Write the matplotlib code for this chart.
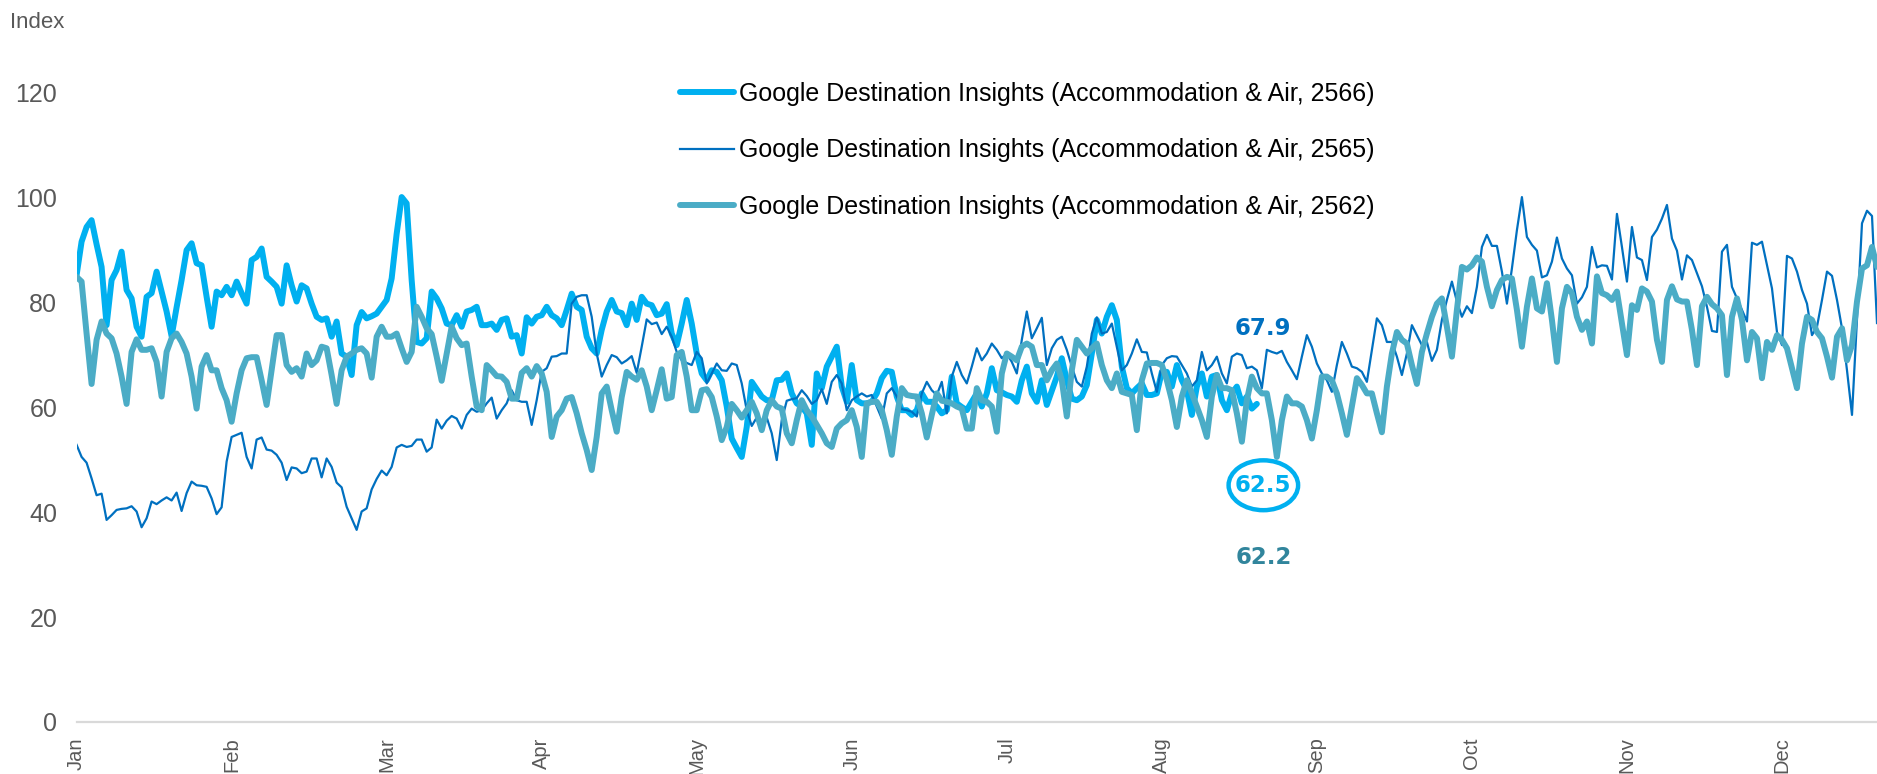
import numpy as np
import matplotlib
matplotlib.use("Agg")
import matplotlib.pyplot as plt
from matplotlib.patches import Ellipse
from matplotlib.lines import Line2D

# ---------------------------------------------------------------- data
months = ["Jan", "Feb", "Mar", "Apr", "May", "Jun",
          "Jul", "Aug", "Sep", "Oct", "Nov", "Dec"]

series_labels = [
    "Google Destination Insights (Accommodation & Air, 2566)",
    "Google Destination Insights (Accommodation & Air, 2565)",
    "Google Destination Insights (Accommodation & Air, 2562)",
]

# daily index values (100 = peak), one value per day from the start of the year
idx_2566 = [
    85.1, 91.5, 94.3, 95.6, 91.0, 86.7, 75.6, 84.2, 86.1, 89.6,
    82.3, 80.7, 75.3, 73.4, 81.0, 81.7, 85.8, 82.0, 78.2, 73.5,
    79.0, 84.2, 89.9, 91.2, 87.4, 87.0, 81.0, 75.3, 82.0, 81.3,
    82.9, 81.3, 83.9, 81.7, 79.7, 88.0, 88.6, 90.2, 84.8, 83.9,
    82.9, 79.7, 87.0, 83.2, 80.1, 83.2, 82.6, 79.7, 77.2, 76.6,
    76.9, 73.4, 76.3, 70.2, 69.6, 66.1, 75.6, 78.1, 76.9, 77.3,
    77.8, 79.1, 80.4, 84.5, 93.0, 100.0, 98.8, 84.2, 72.4, 72.1,
    73.1, 82.0, 80.7, 78.8, 75.9, 75.6, 77.5, 75.3, 78.2, 78.5,
    79.1, 75.6, 75.6, 75.9, 74.7, 76.6, 76.9, 73.4, 73.7, 70.2,
    77.1, 75.9, 77.2, 77.5, 79.1, 77.5, 76.9, 75.6, 78.5, 81.6,
    79.1, 78.5, 73.4, 71.2, 70.2, 74.7, 78.2, 80.4, 78.2, 77.9,
    75.6, 79.7, 76.6, 81.0, 79.7, 79.4, 77.5, 77.8, 79.6, 74.0,
    71.8, 75.9, 80.4, 75.9, 70.2, 66.4, 65.1, 67.0, 66.7, 65.1,
    60.1, 54.0, 52.2, 50.5, 56.2, 64.8, 63.4, 62.0, 61.3, 61.3,
    65.1, 65.2, 66.4, 62.6, 60.7, 60.1, 58.8, 52.8, 66.4, 63.6,
    67.7, 69.6, 71.5, 63.9, 61.0, 68.0, 61.3, 60.7, 60.7, 61.0,
    62.6, 65.5, 66.9, 66.7, 62.0, 59.4, 59.4, 58.5, 59.4, 62.6,
    61.0, 61.0, 60.1, 58.8, 59.4, 65.8, 60.7, 60.0, 59.4, 61.0,
    62.6, 60.1, 62.6, 67.4, 63.2, 62.8, 62.3, 62.0, 61.0, 65.1,
    67.7, 62.6, 61.0, 65.1, 60.4, 63.1, 65.8, 69.3, 65.1, 61.6,
    61.3, 62.0, 64.2, 70.2, 76.6, 74.0, 77.2, 79.4, 76.6, 67.7,
    63.6, 62.6, 63.6, 64.5, 62.3, 62.3, 62.6, 66.7, 66.7, 63.9,
    68.0, 65.1, 63.2, 58.5, 63.9, 66.4, 62.0, 65.8, 66.1, 61.3,
    59.4, 62.6, 63.9, 60.7, 62.0, 59.7, 60.6,
]

idx_2565 = [
    52.8, 50.5, 49.4, 46.4, 43.2, 43.5, 38.5, 39.4, 40.4, 40.6,
    40.7, 41.1, 40.1, 37.1, 38.8, 42.0, 41.5, 42.2, 42.8, 42.2,
    43.7, 40.2, 43.6, 45.8, 45.1, 45.0, 44.8, 42.6, 39.6, 40.9,
    49.6, 54.3, 54.7, 55.1, 50.5, 48.3, 53.8, 54.2, 51.9, 51.7,
    50.9, 49.4, 46.1, 48.5, 48.3, 47.4, 47.7, 50.2, 50.2, 46.6,
    50.2, 48.6, 45.6, 44.7, 41.0, 38.8, 36.6, 40.1, 40.7, 44.3,
    46.3, 47.9, 47.0, 48.6, 52.3, 52.8, 52.4, 52.6, 53.8, 53.8,
    51.5, 52.3, 57.6, 55.9, 57.4, 58.3, 57.8, 55.9, 58.5, 59.7,
    59.1, 59.4, 60.7, 61.8, 57.8, 59.4, 60.7, 63.2, 61.3, 61.0,
    61.0, 56.6, 61.3, 66.7, 67.4, 69.6, 69.7, 70.2, 70.2, 79.7,
    81.0, 81.3, 81.3, 77.2, 70.2, 65.8, 68.0, 69.9, 69.5, 68.3,
    68.9, 69.7, 66.5, 71.5, 76.7, 75.8, 76.1, 73.9, 75.3, 73.4,
    70.5, 68.9, 68.4, 68.0, 70.5, 69.3, 64.5, 66.4, 68.3, 67.0,
    66.9, 68.3, 68.0, 64.5, 59.4, 56.4, 58.0, 57.4, 58.0, 55.0,
    49.9, 57.5, 61.2, 61.5, 61.7, 63.2, 62.1, 60.6, 61.3, 63.4,
    60.6, 64.8, 66.1, 64.5, 59.4, 61.3, 62.0, 62.6, 62.0, 62.3,
    60.1, 57.8, 62.6, 63.6, 62.0, 59.6, 59.4, 59.1, 58.2, 62.6,
    64.8, 63.2, 62.3, 64.8, 58.8, 65.8, 68.6, 66.1, 64.5, 67.7,
    71.2, 68.9, 70.2, 72.1, 70.9, 69.3, 70.2, 68.6, 66.4, 72.8,
    78.2, 73.1, 75.0, 77.0, 68.0, 71.2, 72.8, 73.4, 70.9, 67.7,
    64.8, 63.9, 67.7, 74.0, 77.1, 74.0, 74.3, 75.9, 71.5, 67.0,
    68.0, 70.2, 72.9, 70.5, 70.4, 66.4, 62.9, 68.0, 69.3, 69.7,
    69.6, 68.0, 66.4, 63.9, 65.1, 70.5, 67.0, 68.0, 69.6, 66.4,
    64.5, 69.6, 70.2, 69.9, 67.4, 67.7, 67.0, 63.6, 70.9, 70.5,
    70.2, 70.7, 68.6, 67.0, 65.3, 69.6, 73.7, 71.5, 68.3, 66.4,
    65.1, 62.9, 68.0, 72.4, 70.2, 67.7, 67.4, 66.7, 64.8, 70.9,
    76.9, 75.6, 72.4, 72.4, 69.6, 66.1, 70.2, 75.6, 73.7, 71.8,
    72.4, 68.8, 70.9, 76.6, 80.4, 83.9, 80.1, 77.2, 79.2, 77.9,
    82.9, 90.5, 92.8, 90.7, 90.7, 85.8, 79.7, 86.4, 93.7, 100.0,
    92.4, 90.9, 89.8, 84.7, 85.1, 87.7, 92.3, 88.3, 86.4, 85.1,
    79.7, 80.9, 82.9, 90.5, 86.6, 87.0, 86.9, 84.3, 96.8, 90.5,
    83.9, 94.3, 88.5, 88.0, 84.2, 92.4, 93.8, 95.9, 98.5, 92.1,
    89.8, 84.3, 88.9, 88.0, 85.5, 83.0, 79.1, 74.5, 74.3, 89.6,
    90.9, 82.9, 80.7, 78.5, 76.3, 91.3, 90.9, 91.5, 87.0, 82.6,
    74.3, 71.8, 88.8, 88.3, 85.8, 82.3, 79.7, 73.7, 75.3, 80.4,
    85.8, 85.0, 80.4, 75.0, 67.0, 58.5, 76.6, 95.0, 97.4, 96.4,
    76.0,
]

idx_2562 = [
    84.8, 83.9, 74.0, 64.4, 72.8, 76.3, 74.0, 73.1, 70.2, 65.8,
    60.6, 70.5, 72.9, 70.9, 70.9, 71.2, 68.6, 62.0, 70.5, 73.1,
    74.0, 72.4, 70.2, 65.8, 59.7, 67.7, 69.9, 67.0, 67.0, 63.6,
    61.3, 57.2, 62.6, 67.0, 69.3, 69.5, 69.5, 65.1, 60.4, 67.0,
    73.7, 73.7, 68.0, 66.7, 67.4, 65.8, 70.2, 68.0, 68.9, 71.5,
    71.2, 66.1, 60.6, 67.0, 69.6, 70.2, 70.9, 71.2, 70.2, 65.6,
    73.4, 75.3, 73.4, 73.4, 74.0, 71.2, 68.6, 70.5, 79.1, 77.2,
    75.0, 73.9, 69.6, 65.0, 70.2, 75.3, 73.1, 71.8, 72.1, 65.8,
    60.1, 59.4, 68.0, 67.0, 65.9, 65.8, 64.8, 61.6, 61.6, 66.5,
    67.4, 65.8, 67.8, 66.4, 62.9, 54.3, 58.2, 59.4, 61.6, 61.9,
    58.8, 55.0, 51.8, 48.0, 54.3, 62.6, 63.9, 59.4, 55.3, 61.9,
    66.7, 65.8, 65.2, 67.0, 63.9, 59.4, 63.2, 67.2, 61.6, 61.9,
    69.9, 70.5, 65.8, 59.4, 59.4, 63.2, 63.4, 61.9, 58.2, 53.7,
    56.2, 60.6, 59.4, 58.0, 59.4, 61.0, 58.8, 55.6, 59.4, 61.3,
    60.1, 59.7, 55.0, 53.1, 57.5, 61.3, 59.4, 58.2, 56.6, 55.0,
    53.1, 52.4, 55.9, 56.9, 57.5, 59.4, 56.2, 50.5, 60.7, 61.0,
    61.0, 59.4, 55.6, 50.9, 58.2, 63.6, 62.3, 62.1, 62.0, 58.8,
    54.2, 58.5, 62.6, 61.2, 61.0, 60.7, 60.1, 59.7, 55.9, 55.9,
    63.6, 61.3, 61.0, 60.1, 55.3, 66.4, 70.2, 69.6, 68.9, 71.5,
    72.1, 71.5, 68.0, 68.0, 65.1, 67.0, 68.3, 65.1, 58.2, 67.0,
    72.8, 71.5, 70.2, 71.2, 72.1, 68.0, 65.1, 63.6, 66.4, 62.9,
    62.6, 62.3, 55.6, 65.1, 68.3, 68.4, 68.4, 68.0, 65.1, 61.3,
    56.2, 62.0, 65.1, 62.6, 60.1, 57.5, 54.3, 62.0, 66.1, 63.6,
    63.6, 63.2, 58.8, 53.4, 61.3, 65.8, 63.6, 62.6, 62.6, 57.5,
    50.5, 57.5, 62.0, 60.7, 60.7, 60.1, 57.5, 54.0, 59.4, 65.8,
    65.8, 65.1, 62.6, 58.8, 54.7, 60.1, 65.5, 64.2, 62.6, 62.6,
    58.8, 55.2, 63.9, 70.2, 74.3, 72.8, 72.1, 68.0, 64.4, 70.5,
    74.0, 77.2, 79.7, 80.7, 75.3, 69.6, 78.5, 86.7, 86.2, 87.0,
    88.5, 87.7, 82.9, 79.2, 82.3, 84.2, 84.8, 84.5, 78.5, 71.5,
    79.1, 84.5, 78.8, 78.2, 83.6, 76.6, 68.6, 78.8, 82.9, 81.7,
    77.2, 74.7, 76.3, 72.1, 84.9, 81.7, 81.3, 80.4, 82.0, 75.9,
    69.9, 79.4, 78.5, 82.6, 82.0, 80.1, 72.8, 68.6, 80.4, 83.0,
    80.5, 80.1, 80.1, 74.7, 68.0, 79.2, 81.0, 79.6, 78.8, 77.5,
    66.1, 77.2, 80.7, 76.6, 68.9, 74.3, 73.1, 65.5, 72.4, 70.9,
    73.7, 72.8, 71.2, 67.4, 63.6, 72.1, 77.2, 76.6, 74.3, 73.1,
    69.6, 65.6, 73.4, 75.0, 68.9, 71.8, 80.1, 86.4, 87.0, 90.5,
    86.7,
]

latest_values = ["67.9", "62.5", "62.2"]

# ---------------------------------------------------------------- style
C_2566 = "#00B0F0"
C_2565 = "#0070C0"
C_2562 = "#4BACC6"
C_2562_TEXT = "#31859C"
GREY = "#595959"
AXIS_LINE = "#D9D9D9"

TICK_FONT = ["Liberation Sans", "DejaVu Sans"]
LEGEND_FONT = ["Liberation Sans", "DejaVu Sans"]
THICK = 4.3
THIN = 1.6

fig = plt.figure(figsize=(18.77, 7.74), dpi=100)
ax = fig.add_axes([0.0408, 0.0672, 0.9592, 0.8138])

x66 = np.arange(len(idx_2566))
x65 = np.arange(len(idx_2565))
x62 = np.arange(len(idx_2562))

ax.plot(x66, idx_2566, color=C_2566, lw=THICK, solid_joinstyle="round",
        solid_capstyle="round", zorder=3)
ax.plot(x65, idx_2565, color=C_2565, lw=THIN, solid_joinstyle="round", zorder=4)
ax.plot(x62, idx_2562, color=C_2562, lw=THICK, solid_joinstyle="round",
        solid_capstyle="round", zorder=5)

ax.set_xlim(0, 360)
ax.set_ylim(0, 120)
ax.set_yticks(np.arange(0, 121, 20))
ax.set_xticks(np.arange(len(months)) * 31)
ax.set_xticklabels(months, rotation=90)

for side in ("top", "right", "left"):
    ax.spines[side].set_visible(False)
ax.spines["bottom"].set_color(AXIS_LINE)
ax.spines["bottom"].set_linewidth(1.6)

ax.tick_params(axis="both", length=0, labelcolor=GREY)
ax.tick_params(axis="y", pad=14, labelsize=18)
ax.tick_params(axis="x", pad=11, labelsize=14.5)
for lbl in ax.get_xticklabels() + ax.get_yticklabels():
    lbl.set_family(TICK_FONT)

fig.text(10 / 1877, 1 - 22 / 774, "Index", ha="left", va="center",
         fontsize=16, color=GREY, family=TICK_FONT)

# legend
handles = [
    Line2D([], [], color=C_2566, lw=THICK, solid_capstyle="round"),
    Line2D([], [], color=C_2565, lw=THIN),
    Line2D([], [], color=C_2562, lw=THICK, solid_capstyle="round"),
]
fig.legend(handles, series_labels, loc="upper left",
           bbox_to_anchor=(680 / 1877, 1 - 82 / 774),
           frameon=False, borderpad=0, borderaxespad=0,
           handlelength=2.15, handletextpad=0.2, labelspacing=1.3,
           prop={"family": LEGEND_FONT, "size": 18})

# latest-value callouts
lx = 237.3
ax.text(lx, 75.0, latest_values[0], color=C_2565, fontsize=16.5,
        fontweight="bold", ha="center", va="center", family="DejaVu Sans")
ax.text(lx, 45.1, latest_values[1], color=C_2566, fontsize=16.5,
        fontweight="bold", ha="center", va="center", family="DejaVu Sans")
ax.add_patch(Ellipse((lx, 45.1), 13.9, 9.5, fill=False, ec=C_2566, lw=3.2,
                     zorder=6))
ax.text(lx, 31.4, latest_values[2], color=C_2562_TEXT, fontsize=16.5,
        fontweight="bold", ha="center", va="center", family="DejaVu Sans")

fig.savefig("out.png", dpi=100)
